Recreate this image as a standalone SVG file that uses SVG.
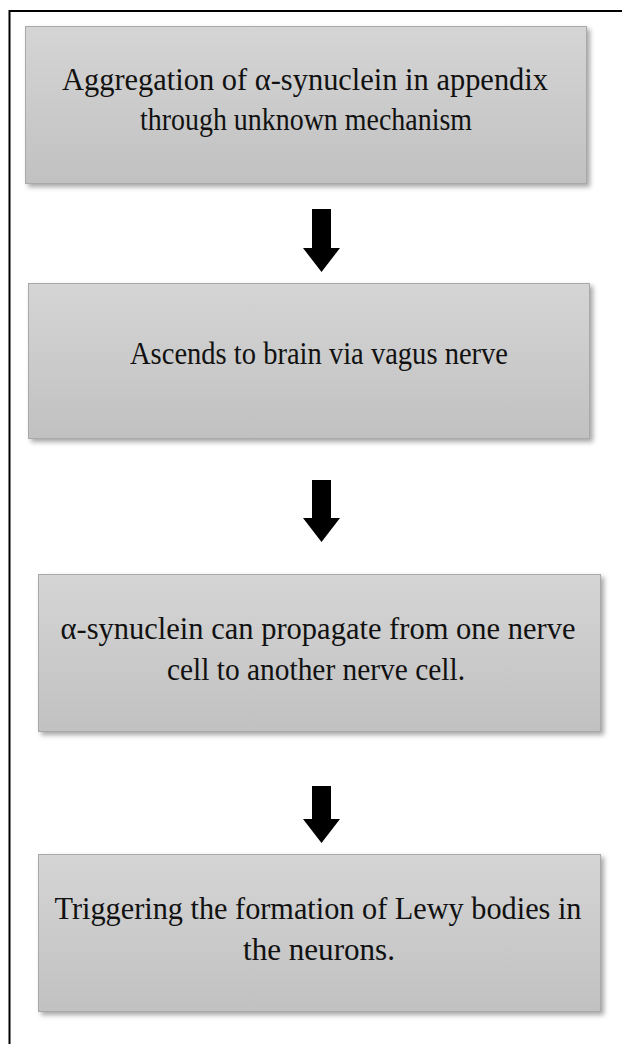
<svg xmlns="http://www.w3.org/2000/svg" width="622" height="1044" viewBox="0 0 622 1044">
<style>
.box{fill:url(#g);stroke:#a9a9a9;stroke-width:1;filter:url(#sh)}
.t{font-family:"Liberation Serif","Times New Roman",serif;font-size:32px;fill:#111;text-anchor:middle}
.arr{fill:#000}
.frame{stroke:#000;stroke-width:2;fill:none}
</style>
<defs>
<linearGradient id="g" x1="0" y1="0" x2="0" y2="1">
<stop offset="0" stop-color="#d5d5d5"/>
<stop offset="1" stop-color="#c1c1c1"/>
</linearGradient>
<filter id="sh" x="-5%" y="-10%" width="115%" height="130%">
<feDropShadow dx="3" dy="3" stdDeviation="2.5" flood-color="#000" flood-opacity="0.35"/>
</filter>
</defs>
<path class="frame" d="M9.5,1044 V11 H622"/>
<g id="node1">
<rect class="box" x="25.5" y="26.5" width="561" height="157"/>
<text class="t" x="305" y="90" textLength="486" lengthAdjust="spacingAndGlyphs">Aggregation of α-synuclein in appendix</text>
<text class="t" x="306" y="130" textLength="332" lengthAdjust="spacingAndGlyphs">through unknown mechanism</text>
</g>
<g id="node2">
<rect class="box" x="28.5" y="283.5" width="561" height="155"/>
<text class="t" x="319" y="364" textLength="378" lengthAdjust="spacingAndGlyphs">Ascends to brain via vagus nerve</text>
</g>
<g id="node3">
<rect class="box" x="38.5" y="574.5" width="562" height="157"/>
<text class="t" x="318" y="639" textLength="515" lengthAdjust="spacingAndGlyphs">α-synuclein can propagate from one nerve</text>
<text class="t" x="316" y="680" textLength="298" lengthAdjust="spacingAndGlyphs">cell to another nerve cell.</text>
</g>
<g id="node4">
<rect class="box" x="38.5" y="854.5" width="562" height="157"/>
<text class="t" x="318" y="919" textLength="527" lengthAdjust="spacingAndGlyphs">Triggering the formation of Lewy bodies in</text>
<text class="t" x="319" y="960" textLength="152" lengthAdjust="spacingAndGlyphs">the neurons.</text>
</g>
<g id="connectors">
<path class="arr" d="M312,209 H331 V248 H340 L321.5,272 L303,248 H312 Z"/>
<path class="arr" d="M312,480 H331 V518 H340 L321.5,542 L303,518 H312 Z"/>
<path class="arr" d="M312,786 H331 V819 H340 L321.5,843 L303,819 H312 Z"/>
</g>
</svg>
